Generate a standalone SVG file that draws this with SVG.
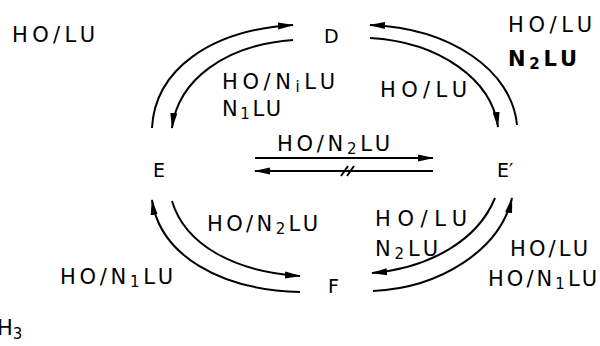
<svg xmlns="http://www.w3.org/2000/svg" width="600" height="346" viewBox="0 0 600 346">
<defs>
<marker id="ah" markerWidth="16" markerHeight="10" refX="15" refY="5" orient="auto" markerUnits="userSpaceOnUse">
<path d="M0,1.5 L16,5 L0,8.5 Z" fill="#000"/>
</marker>
<style>
text{font-family:"DejaVu Sans","Liberation Sans",sans-serif;font-size:21px;fill:#000}
.n{font-size:19px}
.b{font-weight:bold}
.s{font-size:15px}
.c{fill:none;stroke:#000;stroke-width:2;marker-end:url(#ah)}
.p{fill:none;stroke:#000;stroke-width:2}
</style>
</defs>
<rect width="600" height="346" fill="#fff"/>
<g id="connectors">
<path class="c" d="M152,128 C155,70 210,30 293,25"/>
<path class="c" d="M293,40 C225,45 178,80 172,128"/>
<path class="c" d="M517,125 C512,70 450,28 370,25"/>
<path class="c" d="M370,38 C440,42 492,80 498,127"/>
<path class="c" d="M300,292 C220,290 160,255 152,200"/>
<path class="c" d="M172,201 C185,245 235,272 300,276"/>
<path class="c" d="M495,198 C478,240 430,268 372,273"/>
<path class="c" d="M373,291 C440,288 500,250 512,198"/>
<path class="c" d="M255,158 H433"/>
<path class="c" d="M433,171 H255"/>
<path class="p" d="M341,176 L348,166 M347,176 L354,166"/>
</g>
<g id="node-D"><text class="n" x="324" y="43">D</text></g>
<g id="node-E"><text class="n" x="153" y="177">E</text></g>
<g id="node-E2"><text class="n" x="497" y="177">E′</text></g>
<g id="node-F"><text class="n" x="328" y="293">F</text></g>
<g id="labels">
<text x="12" y="42" textLength="83" lengthAdjust="spacing">HO/LU</text>
<text x="508" y="32" textLength="84" lengthAdjust="spacing">HO/LU</text>
<text class="b" x="508" y="66" textLength="69" lengthAdjust="spacing">N<tspan class="s" dy="3">2</tspan><tspan dy="-3">LU</tspan></text>
<text x="222" y="89" textLength="113" lengthAdjust="spacing">HO/N<tspan class="s" dy="3">i</tspan><tspan dy="-3">LU</tspan></text>
<text x="222" y="116" textLength="59" lengthAdjust="spacing">N<tspan class="s" dy="3">1</tspan><tspan dy="-3">LU</tspan></text>
<text x="380" y="97" textLength="87" lengthAdjust="spacing">HO/LU</text>
<text x="277" y="151" textLength="113" lengthAdjust="spacing">HO/N<tspan class="s" dy="3">2</tspan><tspan dy="-3">LU</tspan></text>
<text x="207" y="231" textLength="111" lengthAdjust="spacing">HO/N<tspan class="s" dy="3">2</tspan><tspan dy="-3">LU</tspan></text>
<text x="375" y="226" textLength="92" lengthAdjust="spacing">HO/LU</text>
<text x="375" y="256" textLength="63" lengthAdjust="spacing">N<tspan class="s" dy="3">2</tspan><tspan dy="-3">LU</tspan></text>
<text x="510" y="256" textLength="78" lengthAdjust="spacing">HO/LU</text>
<text x="488" y="286" textLength="109" lengthAdjust="spacing">HO/N<tspan class="s" dy="3">1</tspan><tspan dy="-3">LU</tspan></text>
<text x="60" y="284" textLength="113" lengthAdjust="spacing">HO/N<tspan class="s" dy="3">1</tspan><tspan dy="-3">LU</tspan></text>
<text x="-3" y="335">H<tspan class="s" dy="4">3</tspan></text>
</g>
</svg>
